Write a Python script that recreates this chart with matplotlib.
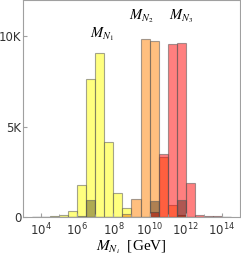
import numpy as np
import matplotlib.pyplot as plt
from matplotlib.ticker import FixedLocator, FuncFormatter

plt.rcParams['mathtext.fontset'] = 'stix'

# bin edges in log10(M/GeV), half-decade bins
edges = np.arange(3.5, 15.0, 0.5)

# counts per bin (one value per bin starting at 10^3.5)
n1 = [20, 40, 70, 130, 370, 1790, 7650, 9060, 4140, 1340, 500, 0,
      0, 0, 0, 0, 0, 0, 0, 0, 0, 0]
n2 = [0, 0, 0, 0, 0, 0, 0, 0, 0, 20, 180, 1010,
      9830, 9760, 3350, 680, 100, 30, 0, 0, 0, 0]
n3 = [0, 0, 0, 0, 0, 0, 0, 0, 0, 0, 0, 0,
      0, 300, 3500, 9560, 9630, 1910, 100, 50, 60, 40]
sub = [0, 0, 0, 0, 0, 80, 930, 0, 0, 0, 0, 0,
       0, 900, 0, 0, 940, 0, 0, 0, 0, 0]

labels = [r'$M_{N_1}$', r'$M_{N_2}$', r'$M_{N_3}$']
label_x = [7.37, 9.53, 11.75]
label_y = [10100, 11100, 11100]

fig = plt.figure(figsize=(2.41, 2.58), dpi=100)
ax = fig.add_axes([0.095, 0.158, 0.901, 0.842])

left = 10 ** edges[:-1]
right = 10 ** edges[1:]
w = right - left
ec = (0.35, 0.35, 0.35, 0.55)
ax.bar(left, n1, width=w, align='edge', color=(1, 1, 0, 0.5), edgecolor=ec, linewidth=0.8)
ax.bar(left, n2, width=w, align='edge', color=(1, 0.5, 0, 0.5), edgecolor=ec, linewidth=0.8)
ax.bar(left, n3, width=w, align='edge', color=(1, 0, 0, 0.5), edgecolor=ec, linewidth=0.8)
ax.bar(left, sub, width=w, align='edge', color=(0.1, 0.05, 0.0, 0.35), edgecolor=ec, linewidth=0.8)

for t, x, y in zip(labels, label_x, label_y):
    ax.text(10 ** x, y, t, ha='center', va='center', fontsize=10.5)

ax.set_xscale('log')
ax.set_xlim(1e3, 1e15)
ax.set_ylim(0, 12000)

ax.xaxis.set_major_locator(FixedLocator([10.0 ** k for k in range(4, 15, 2)]))
ax.xaxis.set_minor_locator(FixedLocator([10.0 ** k for k in range(3, 16, 2)]))
ax.xaxis.set_major_formatter(FuncFormatter(lambda v, p: r'$\mathdefault{10^{%d}}$' % round(np.log10(v))))
ax.xaxis.set_minor_formatter(FuncFormatter(lambda v, p: ''))
ax.yaxis.set_major_locator(FixedLocator([0, 5000, 10000]))
ax.yaxis.set_major_formatter(FuncFormatter(lambda v, p: '0' if v == 0 else '%dK' % (v / 1000)))

for s in ax.spines.values():
    s.set_color('#a0a0a0')
    s.set_linewidth(0.8)
ax.tick_params(which='both', direction='in', color='#a0a0a0', labelsize=8.5, labelcolor='#333333')
ax.tick_params(which='major', length=3, pad=3)
ax.tick_params(which='minor', length=2)
ax.tick_params(axis='y', pad=1)

ax.set_xlabel(r'$M_{N_i}$  [GeV]', fontsize=11, labelpad=0, family='Liberation Serif')

fig.savefig('out.png', dpi=100)
